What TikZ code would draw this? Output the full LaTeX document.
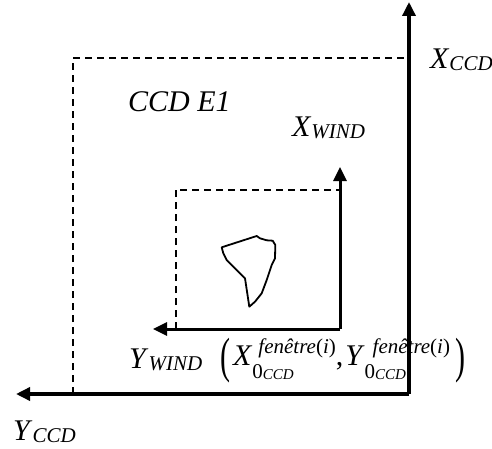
\documentclass[tikz,border=0pt]{standalone}
\usepackage{fontspec}
\setmainfont{Liberation Serif}
\usetikzlibrary{arrows.meta}
\newcommand\mysupsub[4]{\rlap{\hspace{#4}\raisebox{-13pt}{#2}}\hspace{#3}\raisebox{12pt}{#1}}
\newcommand\mysup{{\fontsize{21}{21}\selectfont\itshape fenêtre\upshape(\itshape i\upshape)}}
\newcommand\mysub{{\fontsize{21}{21}\selectfont 0\raisebox{-1pt}{\fontsize{15}{15}\selectfont\itshape CCD}}}
\newcommand\mylab[2]{\textit{#1}\raisebox{-2pt}{\fontsize{21}{21}\selectfont\itshape #2}}
\tikzset{
  axisline/.style={line width=3.4pt,-{Triangle[length=14pt,width=13pt]}},
  inaxisline/.style={line width=3pt,-{Triangle[length=14pt,width=13pt]}},
  dashline/.style={line width=2pt,dash pattern=on 7pt off 5pt},
  lab/.style={inner sep=0pt,anchor=base west,font=\fontsize{30}{36}\selectfont}
}
\begin{document}
\begin{tikzpicture}[x=1pt,y=-1pt]
\useasboundingbox (0,0) rectangle (492,449);
% main axes
\coordinate (O) at (409,394);
\coordinate (Xt) at (409,2);
\coordinate (Yt) at (16,394);
\coordinate (D1) at (72.5,394);
\coordinate (D2) at (72.5,58.5);
\coordinate (D3) at (409,58.5);
\draw[dashline] (D1) -- (D2) -- (D3);
\draw[axisline] (O) -- (Xt);
\draw[axisline] (O) -- (Yt);
% inner axes
\coordinate (o) at (340,329);
\coordinate (xt) at (340,167);
\coordinate (yt) at (153,329);
\coordinate (d1) at (175.5,329);
\coordinate (d2) at (175.5,189.5);
\coordinate (d3) at (340,189.5);
\draw[dashline] (d1) -- (d2) -- (d3);
\draw[inaxisline] (o) -- (xt);
\draw[inaxisline] (o) -- (yt);
% blob
\draw[line width=1.8pt,line join=round]
  (221.7,247.3) -- (256.7,236) -- (260,238.3) -- (266.7,240.3) -- (272.7,240.7)
  -- (275.3,245) -- (275,258.3) -- (271.7,265) -- (266.7,280) -- (261.7,293.3)
  -- (255,301.7) -- (249.3,306.7) -- (245,278.3) -- (226.7,260) -- (223.3,253.3) -- cycle;
% labels
\node[lab] (xccd) at (430,69) {\mylab{X}{CCD}};
\node[lab] (yccd) at (13,440) {\mylab{Y}{CCD}};
\node[lab] (ccde) at (128,112) {\textit{CCD E1}};
\node[lab] (xwind) at (292,137) {\mylab{X}{WIND}};
\node[lab] (ywind) at (129,368) {\mylab{Y}{WIND}};
\node[lab] (form) at (220,365) {\raisebox{-7pt}{\scalebox{1}[1.65]{(}}\hspace{3pt}\textit{X}\mysupsub{\mysup}{\mysub}{6pt}{0pt},\hspace{2pt}\textit{Y}\mysupsub{\mysup}{\mysub}{8pt}{0pt}\hspace{5pt}\raisebox{-7pt}{\scalebox{1}[1.65]{)}}};
\end{tikzpicture}
\end{document}
